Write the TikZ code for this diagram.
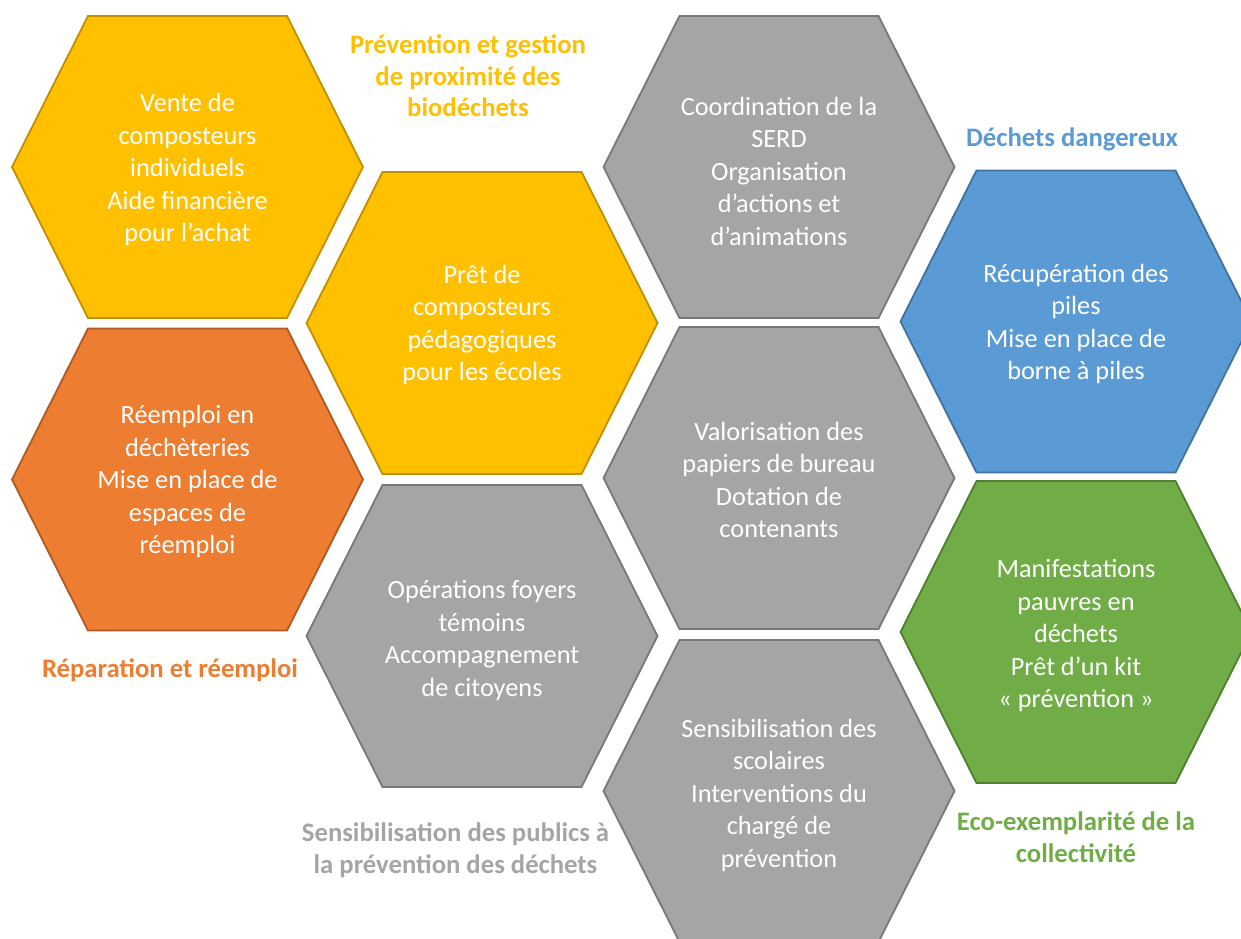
\documentclass[tikz,border=0pt]{standalone}
\usepackage{fontspec}
\setmainfont{Carlito}
\definecolor{yelF}{HTML}{FFC000}
\definecolor{yelB}{HTML}{BF9000}
\definecolor{oraF}{HTML}{ED7D31}
\definecolor{oraB}{HTML}{AE5A21}
\definecolor{grF}{HTML}{A5A5A5}
\definecolor{grB}{HTML}{787878}
\definecolor{bluF}{HTML}{5B9BD5}
\definecolor{bluB}{HTML}{41719C}
\definecolor{grnF}{HTML}{70AD47}
\definecolor{grnB}{HTML}{507E32}
\newcommand{\hexcell}[3]{%
  \draw[hexline, fill=#2, draw=#3] (#1) ++(-175.5,0) -- ++(76,-151) -- ++(199,0) -- ++(76,151) -- ++(-76,151) -- ++(-199,0) -- cycle;}
\begin{document}
\begin{tikzpicture}[x=1pt,y=-1pt,
  hexline/.style={line width=1.8pt, line join=miter},
  hextext/.style={text=white, align=center, font=\fontsize{26.3}{32.5}\selectfont, inner sep=0pt},
  titletext/.style={align=center, font=\bfseries\fontsize{26.7}{31.5}\selectfont, inner sep=0pt}]
\useasboundingbox (0,0) rectangle (1241,938);
\clip (0,0) rectangle (1241,938);
\fill[white] (0,0) rectangle (1241,938);
% hexagons
\hexcell{187.5,167}{yelF}{yelB}
\hexcell{482,323}{yelF}{yelB}
\hexcell{187.5,479.5}{oraF}{oraB}
\hexcell{482,636}{grF}{grB}
\hexcell{779,167}{grF}{grB}
\hexcell{779,478}{grF}{grB}
\hexcell{779,791}{grF}{grB}
\hexcell{1076,321.5}{bluF}{bluB}
\hexcell{1076,632}{grnF}{grnB}
% texts in hexagons
\node[hextext] (t1) at (187.5,169.5) {Vente de\\composteurs\\individuels\\Aide financière\\pour l’achat};
\node[hextext] (t2) at (482,325) {Prêt de\\composteurs\\pédagogiques\\pour les écoles};
\node[hextext] (t3) at (187.5,481.5) {Réemploi en\\déchèteries\\Mise en place de\\espaces de\\réemploi};
\node[hextext] (t4) at (482,640.5) {Opérations foyers\\témoins\\Accompagnement\\de citoyens};
\node[hextext] (t5) at (779,171) {Coordination de la\\SERD\\Organisation\\d’actions et\\d’animations};
\node[hextext] (t6) at (779,480) {Valorisation des\\papiers de bureau\\Dotation de\\contenants};
\node[hextext] (t7) at (779,795) {Sensibilisation des\\scolaires\\Interventions du\\chargé de\\prévention};
\node[hextext] (t8) at (1076,324) {Récupération des\\piles\\Mise en place de\\borne à piles};
\node[hextext] (t9) at (1076,636) {Manifestations\\pauvres en\\déchets\\Prêt d’un kit\\« prévention »};
% titles
\node[titletext, text=yelF] (l1) at (468,76) {Prévention et gestion\\de proximité des\\biodéchets};
\node[titletext, text=bluF] (l2) at (1072,139) {Déchets dangereux};
\node[titletext, text=oraF] (l3) at (170,670) {Réparation et réemploi};
\node[titletext, text=grF] (l4) at (455.5,850) {Sensibilisation des publics à\\la prévention des déchets};
\node[titletext, text=grnF] (l5) at (1076,837) {Eco-exemplarité de la\\collectivité};
\end{tikzpicture}
\end{document}
